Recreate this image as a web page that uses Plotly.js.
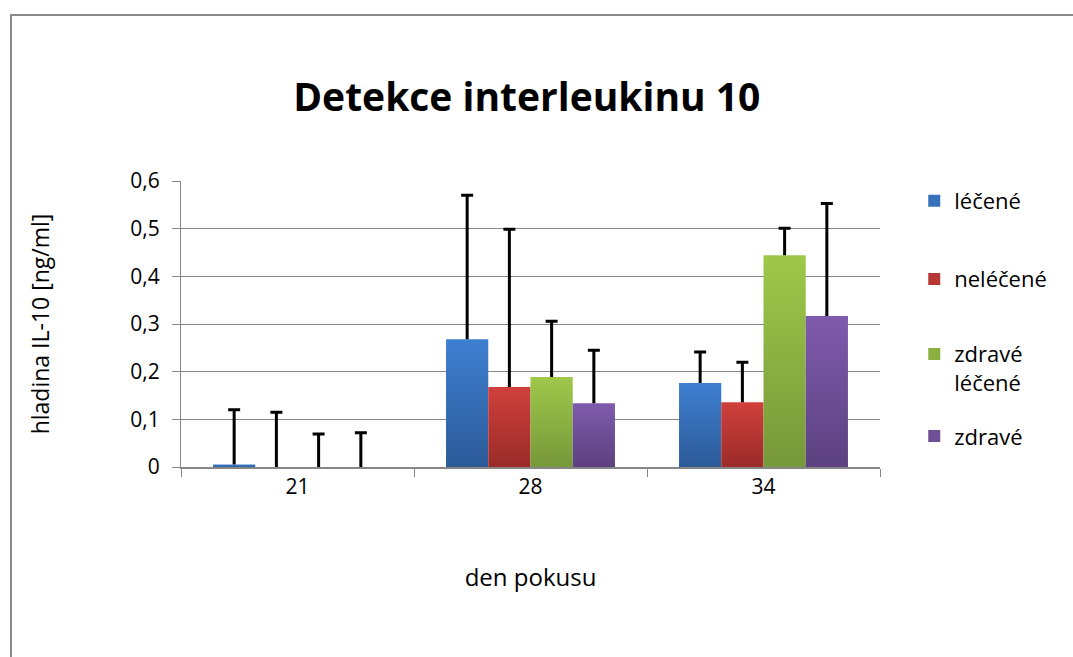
<!DOCTYPE html>
<html>
<head>
<meta charset="utf-8">
<script src="https://cdn.plot.ly/plotly-3.0.1.min.js"></script>
<style>
  html, body { margin: 0; padding: 0; background: #fff; }
  #wrap { position: relative; width: 1073px; height: 657px; overflow: hidden; }
  #chart { width: 1073px; height: 657px; }
  #frame { position: absolute; left: 10px; top: 14px; width: 1100px; height: 700px;
           border-left: 2px solid #8a8a8a; border-top: 2px solid #8a8a8a; pointer-events: none; }
</style>
</head>
<body>
<div id="wrap">
  <div id="chart"></div>
  <div id="frame"></div>
</div>
<script>
// ---- data ----
const categories = ['21', '28', '34'];
const seriesNames = ['léčené', 'neléčené', 'zdravé<br>léčené', 'zdravé'];
const lecene        = [0.005, 0.268, 0.176];
const nelecene      = [0.0,   0.168, 0.136];
const zdraveLecene  = [0.0,   0.189, 0.444];
const zdrave        = [0.0,   0.134, 0.317];
const errLecene       = [0.115, 0.302, 0.065];
const errNelecene     = [0.115, 0.331, 0.084];
const errZdraveLecene = [0.069, 0.117, 0.057];
const errZdrave       = [0.072, 0.111, 0.236];
const yTicks = [0, 0.1, 0.2, 0.3, 0.4, 0.5, 0.6];

// ---- styles ----
const colors = ['#3671ba', '#b63734', '#8bb041', '#6f4f97'];
const gradTop = ['#3e7fd0', '#d0403c', '#9fc84a', '#7f5bad'];
const gradBot = ['#2c5a98', '#9a2b29', '#76983a', '#5c417f'];
const legendPos = [0.930, 0.657, 0.344, 0.108];
const values = [lecene, nelecene, zdraveLecene, zdrave];
const errs = [errLecene, errNelecene, errZdraveLecene, errZdrave];
const legendIds = ['legend', 'legend2', 'legend3', 'legend4'];

const font = '"Open Sans", Lato, sans-serif';

const traces = values.map((v, i) => ({
  type: 'bar',
  name: seriesNames[i],
  x: categories,
  y: v,
  marker: { color: colors[i], line: { width: 0 } },
  error_y: { type: 'data', array: errs[i], arrayminus: v.map(() => 0), symmetric: false,
             color: '#000', thickness: 3, width: 6 },
  legend: legendIds[i],
  hoverinfo: 'x+y+name'
}));

const layout = {
  width: 1073, height: 657,
  paper_bgcolor: '#fff', plot_bgcolor: '#fff',
  margin: { l: 181, r: 193, t: 181, b: 190 },
  separators: ', ',
  barmode: 'group', bargap: 0.275, bargroupgap: 0,
  font: { family: font, color: '#000' },
  title: { text: 'Detekce interleukinu 10', x: 0.491, xanchor: 'center', y: 0.852, yanchor: 'middle',
           font: { family: font, size: 39, weight: 'bold', color: '#000' } },
  xaxis: {
    type: 'category', tickson: 'boundaries', ticks: 'outside', ticklen: 8, tickcolor: '#868686',
    tickwidth: 1, showline: true, linecolor: '#868686', linewidth: 2, showgrid: false,
    tickfont: { size: 21, family: font }, ticklabelstandoff: 0,
    title: { text: 'den pokusu', font: { size: 24, family: font }, standoff: 70 }
  },
  yaxis: {
    range: [0, 0.6], tickvals: yTicks, ticks: 'outside', ticklen: 8, tickcolor: '#868686',
    showline: true, linecolor: '#868686', linewidth: 1, showgrid: true, gridcolor: '#868686',
    gridwidth: 1, zeroline: false, tickfont: { size: 21, family: font },
    ticklabelstandoff: 8,
    title: { text: 'hladina IL-10 [ng/ml]', font: { size: 23, family: font }, standoff: 74 }
  },
  showlegend: true
};
legendIds.forEach((id, i) => {
  layout[id] = { x: 1.049, xanchor: 'left', y: legendPos[i], yanchor: 'middle',
                 bgcolor: 'rgba(0,0,0,0)', borderwidth: 0, valign: 'top',
                 font: { size: 22, family: font, color: '#000' } };
});

Plotly.newPlot('chart', traces, layout, { displayModeBar: false, staticPlot: true }).then(gd => {
  const svg = gd.querySelector('svg.main-svg');
  const ns = 'http://www.w3.org/2000/svg';
  let defs = svg.querySelector('defs');
  if (!defs) { defs = document.createElementNS(ns, 'defs'); svg.insertBefore(defs, svg.firstChild); }
  colors.forEach((c, i) => {
    const g = document.createElementNS(ns, 'linearGradient');
    g.setAttribute('id', 'bargrad' + i);
    g.setAttribute('x1', '0'); g.setAttribute('y1', '0'); g.setAttribute('x2', '0'); g.setAttribute('y2', '1');
    const s1 = document.createElementNS(ns, 'stop'); s1.setAttribute('offset', '0'); s1.setAttribute('stop-color', gradTop[i]);
    const s2 = document.createElementNS(ns, 'stop'); s2.setAttribute('offset', '1'); s2.setAttribute('stop-color', gradBot[i]);
    g.appendChild(s1); g.appendChild(s2); defs.appendChild(g);
  });
  gd.querySelectorAll('.barlayer .trace.bars').forEach((tr, i) => {
    tr.querySelectorAll('.point path').forEach(p => { p.style.fill = 'url(#bargrad' + i + ')'; });
  });
  // one-sided error bars: remove the lower cap ("shoe")
  gd.querySelectorAll('g.errorbar path.yerror').forEach(p => {
    const d = p.getAttribute('d');
    if (d) p.setAttribute('d', d.replace(/m-?[\d.]+,0h[\d.]+\s*$/, ''));
  });
});
</script>
</body>
</html>
